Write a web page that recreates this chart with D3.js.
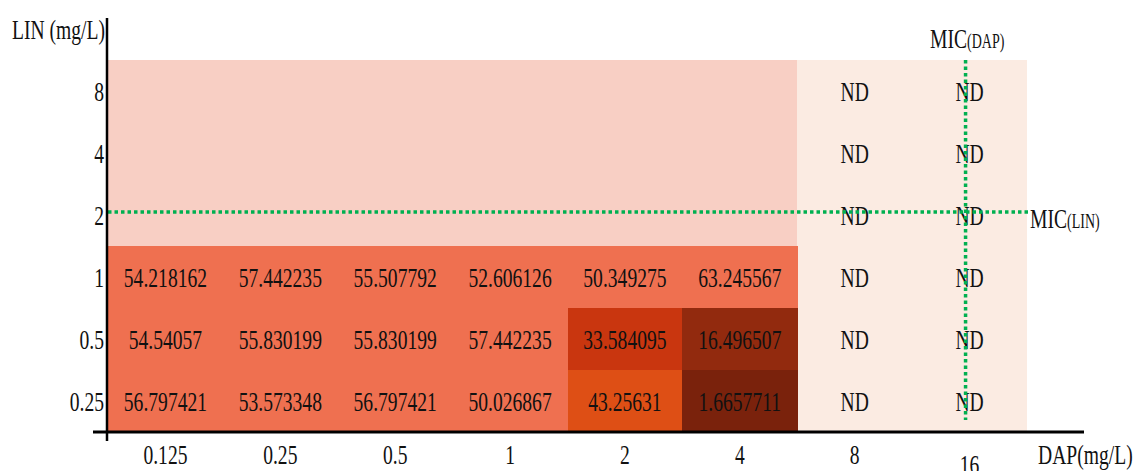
<!DOCTYPE html>
<html>
<head>
<meta charset="utf-8">
<script src="https://cdn.jsdelivr.net/npm/d3@7"></script>
<style>
  body { margin: 0; background: #fff; }
</style>
</head>
<body>
<svg id="chart"></svg>
<script>
// categories
const dapLevels = ['0.125', '0.25', '0.5', '1', '2', '4', '8', '16']
const linLevels = ['8', '4', '2', '1', '0.5', '0.25']

// measured values (rows: LIN 1, 0.5, 0.25; cols: DAP 0.125 .. 4)
const measuredLin = ['1', '0.5', '0.25']
const measuredDap = ['0.125', '0.25', '0.5', '1', '2', '4']
const row1 = [54.218162, 57.442235, 55.507792, 52.606126, 50.349275, 63.245567]
const row05 = [54.54057, 55.830199, 55.830199, 57.442235, 33.584095, 16.496507]
const row025 = [56.797421, 53.573348, 56.797421, 50.026867, 43.25631, 1.6657711]
const valueLabels = [
  ['54.218162', '57.442235', '55.507792', '52.606126', '50.349275', '63.245567'],
  ['54.54057', '55.830199', '55.830199', '57.442235', '33.584095', '16.496507'],
  ['56.797421', '53.573348', '56.797421', '50.026867', '43.25631', '1.6657711'],
]
const ndDap = ['8', '16']
const micDap = '16'
const micLin = '2'

const width = 1133
const height = 471
const sx = 0.7 // horizontal squeeze of the serif type
const FS = 28
const FONT = "'Liberation Serif'"

const svg = d3.select('#chart').attr('width', width).attr('height', height)

const x = d3.scaleBand().domain(dapLevels).range([108, 1027])
const y = d3.scaleBand().domain(linLevels).range([60, 432])

const color = d3
  .scaleThreshold()
  .domain([10, 25, 40, 47])
  .range(['#7a220c', '#922a0e', '#c9360f', '#de4f15', '#ef7050'])

// narrow text helper
function label(g, str, px, py, size, anchor) {
  return g
    .append('text')
    .attr('transform', `translate(${px},${py}) scale(${sx},1)`)
    .attr('text-anchor', anchor || 'middle')
    .style('font-family', FONT)
    .style('font-size', size + 'px')
    .style('fill', '#111')
    .text(str)
}

// background: untested area
svg
  .append('rect')
  .attr('x', x('0.125'))
  .attr('y', y('8'))
  .attr('width', x('4') + x.bandwidth() - x('0.125'))
  .attr('height', y('1') - y('8'))
  .attr('fill', '#f8cfc4')
  .attr('shape-rendering', 'crispEdges')

// background: ND area
svg
  .append('rect')
  .attr('x', x('8'))
  .attr('y', y('8'))
  .attr('width', x.bandwidth() * 2)
  .attr('height', y.bandwidth() * linLevels.length)
  .attr('fill', '#fbebe2')
  .attr('shape-rendering', 'crispEdges')

// cells
const cells = []
;[row1, row05, row025].forEach((row, i) => {
  row.forEach((v, j) => {
    cells.push({ lin: measuredLin[i], dap: measuredDap[j], value: v, label: valueLabels[i][j] })
  })
})

svg
  .selectAll('.cell')
  .data(cells)
  .join('rect')
  .attr('class', 'cell')
  .attr('x', (d) => x(d.dap))
  .attr('y', (d) => y(d.lin))
  .attr('width', x.bandwidth() + 0.5)
  .attr('height', y.bandwidth() + 0.5)
  .attr('fill', (d) => color(d.value))
  .attr('shape-rendering', 'crispEdges')

const textG = svg.append('g')
cells.forEach((d) => {
  label(textG, d.label, x(d.dap) + x.bandwidth() / 2, y(d.lin) + y.bandwidth() / 2 + 10, FS)
})

linLevels.forEach((lin) => {
  ndDap.forEach((dap) => {
    label(textG, 'ND', x(dap) + x.bandwidth() / 2, y(lin) + y.bandwidth() / 2 + 10, FS)
  })
})

// MIC lines
const micX = x(micDap) + x.bandwidth() / 2 - 4
const micY = y(micLin) + y.bandwidth() / 2 - 3
svg
  .append('line')
  .attr('x1', x('0.125'))
  .attr('x2', 1030)
  .attr('y1', micY)
  .attr('y2', micY)
  .attr('stroke', '#00b050')
  .attr('stroke-width', 3.5)
  .attr('stroke-dasharray', '3.5,3')
svg
  .append('line')
  .attr('x1', micX)
  .attr('x2', micX)
  .attr('y1', y('8'))
  .attr('y2', 420)
  .attr('stroke', '#00b050')
  .attr('stroke-width', 3.5)
  .attr('stroke-dasharray', '3.5,3')

// axes lines
svg.append('line')
  .attr('x1', 107).attr('x2', 107).attr('y1', 18).attr('y2', 441)
  .attr('stroke', '#000').attr('stroke-width', 2.5)
svg.append('line')
  .attr('x1', 93).attr('x2', 1084).attr('y1', 432).attr('y2', 432)
  .attr('stroke', '#000').attr('stroke-width', 3)

// tick labels
linLevels.forEach((lin) => {
  label(svg, lin, 104, y(lin) + y.bandwidth() / 2 + 10, FS, 'end')
})
dapLevels.forEach((dap) => {
  const dy = dap === '16' ? 474 : 464
  label(svg, dap, x(dap) + x.bandwidth() / 2, dy, FS)
})

// axis titles
label(svg, 'LIN (mg/L)', 12, 39, FS, 'start')
label(svg, 'DAP(mg/L)', 1038, 464, FS, 'start')

// MIC annotations
const micDapLabel = label(svg, 'MIC', 930, 48, FS, 'start')
micDapLabel.append('tspan').style('font-size', '20px').text('(DAP)')

const micLinLabel = label(svg, 'MIC', 1030, micY + 16, FS, 'start')
micLinLabel.append('tspan').style('font-size', '20px').text('(LIN)')
</script>
</body>
</html>
